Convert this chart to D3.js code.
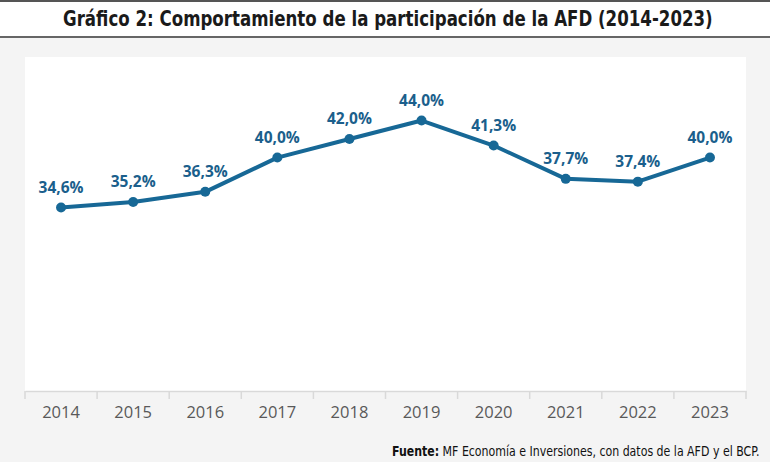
<!DOCTYPE html>
<html><head><meta charset="utf-8">
<script src="https://cdn.jsdelivr.net/npm/d3@7"></script>
<style>html,body{margin:0;padding:0;background:#f4f4f4;}svg{display:block;}</style>
</head><body>
<script>
const years = ["2014","2015","2016","2017","2018","2019","2020","2021","2022","2023"];
const values = [34.6,35.2,36.3,40.0,42.0,44.0,41.3,37.7,37.4,40.0];
const labels = ["34,6%","35,2%","36,3%","40,0%","42,0%","44,0%","41,3%","37,7%","37,4%","40,0%"];
const title = "Gráfico 2: Comportamiento de la participación de la AFD (2014-2023)";

(function(){
const W = 770, H = 462;
const svg = d3.select("body").append("svg").attr("width", W).attr("height", H);
svg.append("rect").attr("width", W).attr("height", H).attr("fill", "#f4f4f4");
// title band
svg.append("rect").attr("x",0).attr("y",0).attr("width",W).attr("height",37).attr("fill","#fff");
svg.append("line").attr("x1",0).attr("x2",W).attr("y1",1).attr("y2",1).attr("stroke","#555").attr("stroke-width",2);
svg.append("line").attr("x1",0).attr("x2",W).attr("y1",37).attr("y2",37).attr("stroke","#666").attr("stroke-width",2);

function fitText(sel, x0, width){
  const w = sel.node().getComputedTextLength();
  const s = width / w;
  sel.attr("transform", `translate(${x0},0) scale(${s},1)`);
}

const tt = svg.append("text").attr("x",0).attr("y",26.5)
  .attr("font-family","'DejaVu Sans Condensed','DejaVu Sans'").attr("font-stretch","condensed")
  .attr("font-weight","bold").attr("font-size",20.5).attr("fill","#1a1a1a").text(title);
fitText(tt, 63, 650);

const pl = 25, pr = 746, pt = 57, pb = 391;
svg.append("rect").attr("x",pl).attr("y",pt).attr("width",pr-pl).attr("height",pb-pt).attr("fill","#fff");

const x = d3.scaleBand().domain(years).range([pl, pr]).padding(0);
const y = d3.scaleLinear().domain([15, 50]).range([389, 65]);

const ax = svg.append("g").attr("transform",`translate(0,${pb})`)
  .call(d3.axisBottom(x).tickSize(0).tickPadding(15));
ax.select(".domain").attr("stroke","#d9d9d9").attr("stroke-width",1.5);
ax.selectAll("text").attr("font-family","'Open Sans'").attr("font-size",16.5).attr("fill","#595959");
const bounds = years.map(d => x(d)).concat([pr]);
svg.append("g").selectAll("line").data(bounds).join("line")
  .attr("x1",d=>d).attr("x2",d=>d).attr("y1",pb).attr("y2",pb+8)
  .attr("stroke","#d9d9d9").attr("stroke-width",1.5);

const cx = d => x(d) + x.bandwidth()/2;
const color = "#176896";
const line = d3.line().x((d,i)=>cx(years[i])).y(d=>y(d));
svg.append("path").datum(values).attr("d",line).attr("fill","none")
  .attr("stroke",color).attr("stroke-width",4).attr("stroke-linejoin","round");
svg.append("g").selectAll("circle").data(values).join("circle")
  .attr("cx",(d,i)=>cx(years[i])).attr("cy",d=>y(d)).attr("r",5).attr("fill",color);
svg.append("g").selectAll("text").data(values).join("text")
  .attr("x",(d,i)=>cx(years[i])).attr("y",d=>y(d)-15).attr("text-anchor","middle")
  .attr("font-family","'Open Sans'").attr("font-weight","bold").attr("font-size",15.5)
  .attr("fill","#1b5f8c").text((d,i)=>labels[i]);

const foot = svg.append("text").attr("x",0).attr("y",456)
  .attr("font-family","'DejaVu Sans Condensed','DejaVu Sans'").attr("font-stretch","condensed")
  .attr("font-size",14).attr("fill","#111");
foot.append("tspan").attr("font-weight","bold").text("Fuente:");
foot.append("tspan").text(" MF Economía e Inversiones, con datos de la AFD y el BCP.");
fitText(foot, 392, 368);
})();
</script>
</body></html>
